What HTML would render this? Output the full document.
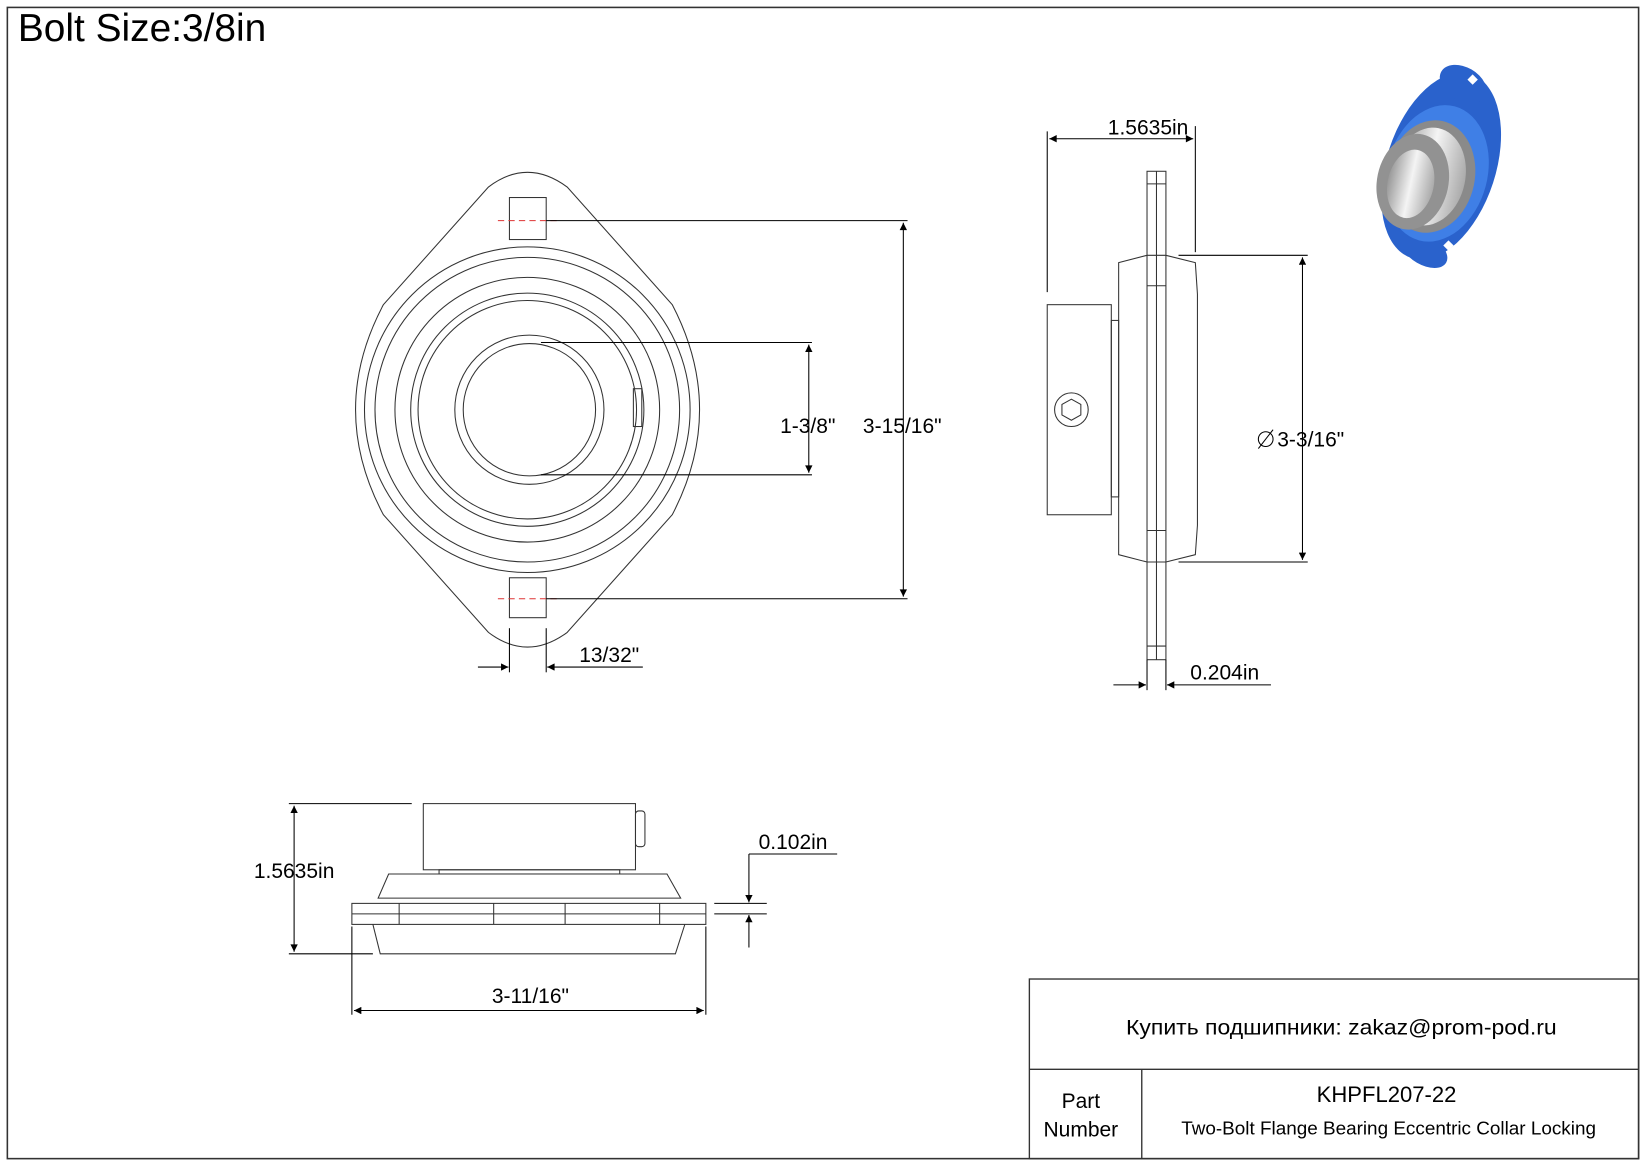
<!DOCTYPE html>
<html><head><meta charset="utf-8"><style>
html,body{margin:0;padding:0;background:#fff}
svg{display:block}
text{font-family:"Liberation Sans","Noto Sans CJK SC",sans-serif;fill:#000}
</style></head><body>
<svg width="1647" height="1165" viewBox="0 0 1568 1109" xmlns="http://www.w3.org/2000/svg">
<defs>
<marker id="a" viewBox="0 0 10 10" refX="10" refY="5" markerWidth="14" markerHeight="7" orient="auto-start-reverse" markerUnits="userSpaceOnUse"><path d="M0,0 L10,5 L0,10 z" fill="#000"/></marker>
<linearGradient id="st" x1="0" x2="1"><stop offset="0" stop-color="#999"/><stop offset=".5" stop-color="#f4f4f4"/><stop offset="1" stop-color="#aaa"/></linearGradient>
</defs>
<rect x="7" y="7" width="1553" height="1096" fill="none" stroke="#333" stroke-width="1.5"/>
<text x="17" y="39" font-size="37">Bolt Size:3/8in</text>

<!-- Front view -->
<g fill="none" stroke="#333" stroke-width="1">
<path d="M465,178 Q502,150 540,178 L640,290 Q692,390 640,490 L540,602 Q502,630 465,602 L365,490 Q312,390 365,290 Z"/>
<circle cx="502" cy="390" r="155"/>
<circle cx="502" cy="390" r="145"/>
<circle cx="502" cy="390" r="126"/>
<circle cx="502" cy="390" r="111"/>
<circle cx="502" cy="390" r="104"/>
<circle cx="504" cy="390" r="71"/>
<circle cx="504" cy="390" r="63"/>
<rect x="603" y="370" width="8" height="36"/>
<rect x="485" y="188" width="35" height="40"/>
<rect x="485" y="550" width="35" height="38"/>
</g>
<g stroke="#d33" stroke-dasharray="6,4" stroke-width="1"><line x1="474" y1="210" x2="532" y2="210"/><line x1="474" y1="570" x2="532" y2="570"/></g>
<g stroke="#000" stroke-width="1" fill="none">
<line x1="520" y1="210" x2="864" y2="210"/><line x1="520" y1="570" x2="864" y2="570"/>
<line x1="860" y1="212" x2="860" y2="568" marker-start="url(#a)" marker-end="url(#a)"/>
<line x1="515" y1="326" x2="773" y2="326"/><line x1="515" y1="452" x2="773" y2="452"/>
<line x1="770" y1="328" x2="770" y2="450" marker-start="url(#a)" marker-end="url(#a)"/>
<line x1="485" y1="598" x2="485" y2="640"/><line x1="520" y1="598" x2="520" y2="640"/>
<line x1="455" y1="635" x2="484" y2="635" marker-end="url(#a)"/>
<line x1="612" y1="635" x2="521" y2="635" marker-end="url(#a)"/>
</g>
<text x="769" y="412" font-size="20" text-anchor="middle">1-3/8"</text>
<text x="859" y="412" font-size="20" text-anchor="middle">3-15/16"</text>
<text x="580" y="630" font-size="20" text-anchor="middle">13/32"</text>

<!-- Side view -->
<g fill="none" stroke="#333" stroke-width="1">
<rect x="1092" y="163" width="18" height="465"/>
<line x1="1101" y1="163" x2="1101" y2="628"/>
<path d="M1065,250 L1092,243 L1110,243 L1138,250 L1140,280 L1140,500 L1138,528 L1110,535 L1092,535 L1065,528 Z"/>
<line x1="1092" y1="175" x2="1110" y2="175"/><line x1="1092" y1="615" x2="1110" y2="615"/>
<line x1="1092" y1="272" x2="1110" y2="272"/><line x1="1092" y1="505" x2="1110" y2="505"/>
<rect x="1058" y="305" width="7" height="168"/>
<rect x="997" y="290" width="61" height="200"/>
<circle cx="1020" cy="390" r="16"/>
<path d="M1020,380 L1029,385 L1029,395 L1020,400 L1011,395 L1011,385 Z"/>
</g>
<g stroke="#000" stroke-width="1" fill="none">
<line x1="997" y1="125" x2="997" y2="278"/><line x1="1138" y1="120" x2="1138" y2="240"/>
<line x1="999" y1="132" x2="1136" y2="132" marker-start="url(#a)" marker-end="url(#a)"/>
<line x1="1122" y1="243" x2="1245" y2="243"/><line x1="1122" y1="535" x2="1245" y2="535"/>
<line x1="1240" y1="245" x2="1240" y2="533" marker-start="url(#a)" marker-end="url(#a)"/>
<line x1="1092" y1="628" x2="1092" y2="657"/><line x1="1110" y1="628" x2="1110" y2="657"/>
<line x1="1060" y1="652" x2="1091" y2="652" marker-end="url(#a)"/>
<line x1="1210" y1="652" x2="1111" y2="652" marker-end="url(#a)"/>
<circle cx="1205" cy="418" r="7"/><line x1="1198" y1="427" x2="1212" y2="409"/>
</g>
<text x="1093" y="128" font-size="20" text-anchor="middle">1.5635in</text>
<text x="1216" y="425" font-size="20">3-3/16"</text>
<text x="1166" y="647" font-size="20" text-anchor="middle">0.204in</text>

<!-- Bottom view -->
<g fill="none" stroke="#333" stroke-width="1">
<rect x="403" y="765" width="202" height="63"/>
<rect x="605" y="772" width="9" height="34" rx="3"/>
<rect x="418" y="828" width="172" height="4"/>
<path d="M360,855 L370,832 L635,832 L648,855 Z"/>
<rect x="335" y="860" width="337" height="20"/>
<line x1="335" y1="870" x2="672" y2="870"/>
<line x1="380" y1="860" x2="380" y2="880"/><line x1="470" y1="860" x2="470" y2="880"/><line x1="538" y1="860" x2="538" y2="880"/><line x1="628" y1="860" x2="628" y2="880"/>
<path d="M355,880 L362,908 L643,908 L652,880"/>
</g>
<g stroke="#000" stroke-width="1" fill="none">
<line x1="275" y1="765" x2="392" y2="765"/><line x1="275" y1="908" x2="355" y2="908"/>
<line x1="280" y1="767" x2="280" y2="906" marker-start="url(#a)" marker-end="url(#a)"/>
<line x1="335" y1="882" x2="335" y2="966"/><line x1="672" y1="882" x2="672" y2="966"/>
<line x1="337" y1="962" x2="670" y2="962" marker-start="url(#a)" marker-end="url(#a)"/>
<line x1="680" y1="860" x2="730" y2="860"/><line x1="680" y1="870" x2="730" y2="870"/>
<line x1="713" y1="813" x2="713" y2="859" marker-end="url(#a)"/>
<line x1="713" y1="902" x2="713" y2="871" marker-end="url(#a)"/>
<line x1="713" y1="813" x2="797" y2="813"/>
</g>
<text x="280" y="836" font-size="20" text-anchor="middle">1.5635in</text>
<text x="505" y="955" font-size="20" text-anchor="middle">3-11/16"</text>
<text x="755" y="808" font-size="20" text-anchor="middle">0.102in</text>

<!-- 3D picture -->
<ellipse cx="1372" cy="158" rx="52" ry="92" fill="#2a62cc" transform="rotate(18 1372 158)"/>
<ellipse cx="1393" cy="80" rx="24" ry="16" fill="#2a62cc" transform="rotate(30 1393 80)"/>
<ellipse cx="1356" cy="238" rx="24" ry="14" fill="#2a62cc" transform="rotate(30 1356 238)"/>
<rect x="1399" y="72" width="7" height="7" fill="#fff" transform="rotate(45 1402 75)"/>
<rect x="1376" y="230" width="7" height="7" fill="#fff" transform="rotate(45 1379 233)"/>
<ellipse cx="1368" cy="165" rx="48" ry="66" fill="#3f7fe6" transform="rotate(15 1368 165)"/>
<ellipse cx="1362" cy="168" rx="42" ry="54" fill="#8a8a8a" transform="rotate(12 1362 168)"/>
<ellipse cx="1360" cy="168" rx="35" ry="47" fill="url(#st)" transform="rotate(12 1360 168)"/>
<ellipse cx="1345" cy="173" rx="34" ry="46" fill="#929292" transform="rotate(12 1345 173)"/>
<ellipse cx="1343" cy="175" rx="22" ry="33" fill="url(#st)" transform="rotate(12 1343 175)"/>

<!-- Title block -->
<g fill="none" stroke="#333" stroke-width="1.3">
<rect x="980" y="932" width="580" height="171"/>
<line x1="980" y1="1018" x2="1560" y2="1018"/>
<line x1="1087" y1="1018" x2="1087" y2="1103"/>
</g>
<text x="1277" y="985" font-size="20" text-anchor="middle" textLength="410" lengthAdjust="spacingAndGlyphs">Купить подшипники: zakaz@prom-pod.ru</text>
<text x="1320" y="1049" font-size="21" text-anchor="middle">KHPFL207-22</text>
<text x="1322" y="1080" font-size="18" text-anchor="middle">Two-Bolt Flange Bearing Eccentric Collar Locking</text>
<text x="1029" y="1055" font-size="20" text-anchor="middle">Part</text>
<text x="1029" y="1082" font-size="20" text-anchor="middle">Number</text>
</svg>
</body></html>
